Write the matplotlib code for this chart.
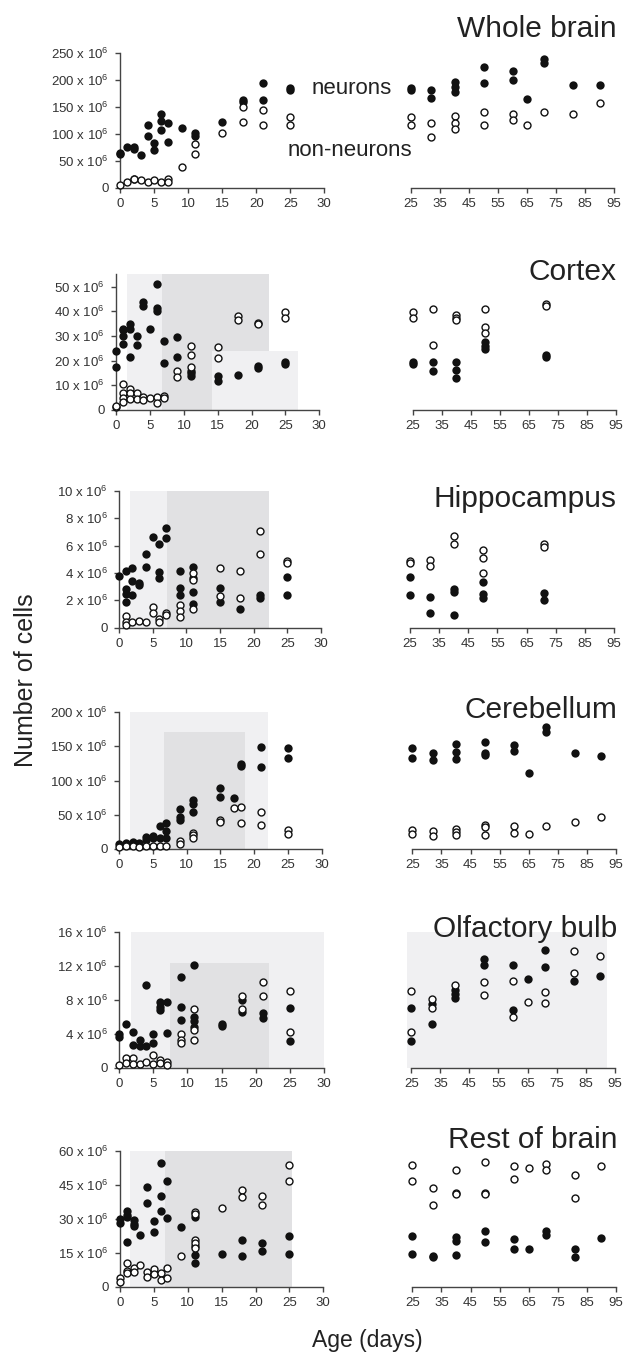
import matplotlib
matplotlib.use('Agg')
import matplotlib.pyplot as plt
from matplotlib.patches import Rectangle

plt.rcParams['font.family'] = ['Liberation Sans', 'DejaVu Sans']
plt.rcParams['mathtext.default'] = 'regular'

# ---------------- data (values in millions of cells) ----------------
# Whole brain
wb_neu_age = [0, 0, 1, 2, 2, 3, 4, 4, 5, 5, 6, 6, 6, 7, 7, 9, 11, 11, 15, 18, 18, 21, 21, 25, 25,
              32, 32, 40, 40, 40, 50, 50, 60, 60, 65, 71, 71, 81, 90]
wb_neu_val = [62, 65, 75, 75, 72, 60, 117, 96, 83, 70, 137, 123, 107, 119, 85, 111, 102, 96, 122, 162, 158, 193, 162, 184, 181,
              180, 166, 196, 187, 177, 223, 194, 216, 200, 164, 238, 231, 190, 190]
wb_non_age = [0, 1, 2, 2, 3, 4, 5, 6, 7, 7, 9, 11, 11, 15, 18, 18, 21, 21, 25, 25,
              32, 32, 40, 40, 40, 50, 50, 60, 60, 65, 71, 81, 90]
wb_non_val = [5, 10, 17, 16, 14, 11, 14, 11, 16, 10, 39, 80, 62, 101, 150, 122, 144, 117, 130, 117,
              119, 93, 132, 120, 109, 140, 117, 136, 125, 117, 141, 137, 156]

# Cortex
cx_neu_age = [0, 0, 1, 1, 1, 1, 2, 2, 2, 3, 3, 4, 4, 5, 6, 6, 6, 7, 7, 9, 9, 11, 11, 11, 15, 15, 18, 21, 21, 25, 25,
              32, 32, 40, 40, 40, 50, 50, 50, 71, 71]
cx_neu_val = [23.9, 17.6, 33, 32.4, 30, 26.6, 34.7, 32.7, 21.5, 30.1, 26.2, 43.9, 42.2, 33, 51.2, 41.5, 40.1, 27.8, 19.2,
              29.5, 21.5, 16, 14.9, 13.9, 13.9, 11.9, 14.1, 17.8, 17, 19.6, 18.8,
              19.3, 15.9, 19.3, 16.1, 13.1, 27.4, 26.1, 24.6, 22.3, 21.4]
cx_non_age = [0, 0, 1, 1, 1, 1, 2, 2, 2, 3, 3, 4, 4, 5, 6, 6, 7, 7, 9, 9, 11, 11, 11, 15, 15, 18, 18, 21, 21, 25, 25,
              32, 32, 40, 40, 40, 50, 50, 50, 71, 71]
cx_non_val = [1.4, 1.8, 10.7, 6.8, 4.7, 3.1, 8.6, 6.8, 4.3, 6.8, 4.3, 5.4, 4.1, 5, 5.4, 2.8, 5.7, 5, 15.8, 13.2,
              26.1, 22.2, 17.3, 25.5, 20.9, 38.1, 36.5, 35.4, 34.7, 39.7, 37.4,
              40.8, 26.4, 38.5, 37.4, 36.5, 40.8, 33.8, 31.1, 43, 42.3]

# Hippocampus
hp_neu_age = [0, 1, 1, 1, 1, 2, 2, 2, 3, 3, 4, 4, 5, 6, 6, 6, 7, 7, 9, 9, 9, 11, 11, 11, 11, 15, 15, 18, 21, 21, 25, 25,
              32, 32, 40, 40, 40, 50, 50, 50, 71, 71]
hp_neu_val = [3.77, 4.16, 2.8, 2.46, 1.85, 4.33, 3.4, 2.36, 3.28, 3.14, 5.38, 4.45, 6.62, 6.13, 4.04, 3.63, 7.25, 6.52,
              4.14, 2.92, 2.36, 4.45, 3.63, 2.63, 1.73, 2.92, 1.87, 1.34, 2.36, 2.14, 3.7, 2.4,
              2.24, 1.09, 2.85, 2.63, 0.9, 3.36, 2.46, 2.14, 2.55, 2.02]
hp_non_age = [1, 1, 1, 2, 3, 4, 5, 5, 6, 6, 7, 7, 9, 9, 9, 11, 11, 11, 15, 15, 18, 18, 21, 21, 25, 25,
              32, 32, 40, 40, 50, 50, 50, 71, 71]
hp_non_val = [0.88, 0.39, 0.22, 0.41, 0.46, 0.39, 1.48, 1.05, 0.66, 0.39, 1.05, 0.92, 1.68, 1.22, 0.75,
              4.0, 3.5, 1.34, 4.36, 2.29, 4.16, 2.19, 7.03, 5.38, 4.9, 4.75,
              4.94, 4.48, 6.67, 6.13, 5.64, 5.11, 3.97, 6.13, 5.86]

# Cerebellum
cb_neu_age = [0, 1, 2, 3, 4, 4, 5, 5, 6, 6, 7, 7, 7, 9, 9, 9, 11, 11, 11, 15, 15, 17, 18, 18, 21, 21, 25, 25,
              32, 32, 40, 40, 40, 50, 50, 50, 60, 60, 65, 71, 71, 81, 90]
cb_neu_val = [7.3, 8.8, 10.3, 8.8, 17.6, 12.7, 19, 15, 33.3, 15, 37.2, 25.4, 15, 57.7, 47, 42, 71.4, 65, 53.3,
              89, 76.3, 74.8, 124, 121.8, 149, 120.3, 147, 132.3,
              141, 130, 153.5, 142.3, 132, 157, 140, 137, 152, 143.8, 111.5, 178, 170.7, 140.8, 136.4]
cb_non_age = [0, 1, 2, 3, 4, 5, 6, 7, 9, 9, 11, 11, 11, 15, 15, 17, 18, 18, 21, 21, 25, 25,
              32, 32, 40, 40, 40, 50, 50, 50, 60, 60, 65, 71, 81, 90]
cb_non_val = [3, 4, 4, 3, 4, 4, 4, 4, 11.2, 6.8, 23.5, 20, 16.1, 41.6, 39.6, 60, 61.6, 37.2, 53.3, 35.2, 26.9, 22,
              26.4, 19, 28.4, 24, 20.5, 34.7, 31.8, 20, 32.8, 23.5, 22, 32.8, 38.6, 47]

# Olfactory bulb
ob_neu_age = [0, 0, 1, 2, 2, 3, 3, 4, 4, 5, 5, 6, 6, 6, 7, 7, 9, 9, 9, 11, 11, 11, 11, 15, 15, 18, 18, 21, 21, 25, 25,
              32, 32, 40, 40, 40, 50, 50, 60, 60, 65, 71, 71, 81, 90]
ob_neu_val = [3.96, 3.65, 5.1, 4.24, 2.7, 3.25, 2.6, 9.73, 2.6, 3.92, 2.86, 7.76, 7.18, 6.8, 7.76, 4.04,
              10.7, 7.2, 5.6, 12.08, 6.0, 5.5, 4.82, 5.1, 4.9, 7.96, 6.6, 6.47, 5.88, 7.0, 3.1,
              7.45, 5.1, 9.14, 8.67, 8.24, 12.75, 12.04, 12.04, 6.78, 10.4, 13.84, 11.88, 10.24, 10.75]
ob_non_age = [0, 1, 1, 2, 2, 3, 4, 5, 5, 6, 6, 7, 7, 9, 9, 9, 11, 11, 11, 18, 18, 21, 21, 25, 25,
              32, 32, 40, 50, 50, 60, 60, 65, 71, 71, 81, 81, 90]
ob_non_val = [0.27, 1.2, 0.5, 1.1, 0.43, 0.47, 0.7, 1.45, 0.47, 0.9, 0.5, 0.63, 0.3, 3.92, 3.25, 2.86,
              6.9, 4.43, 3.25, 8.43, 6.9, 10.08, 8.43, 9.0, 4.2,
              8.12, 7.06, 9.76, 10.12, 8.59, 10.24, 5.92, 7.76, 8.94, 7.57, 13.73, 11.1, 13.2]

# Rest of brain
rb_neu_age = [0, 0, 1, 1, 1, 1, 2, 2, 2, 3, 4, 4, 5, 5, 6, 6, 6, 7, 7, 9, 11, 11, 11, 11, 15, 18, 18, 21, 21, 25, 25,
              32, 32, 40, 40, 40, 50, 50, 60, 60, 65, 71, 71, 81, 81, 90]
rb_neu_val = [29.7, 27.9, 33.4, 31.6, 30.6, 19.6, 29.4, 27.6, 26.8, 22.9, 43.8, 37.1, 29.1, 24.1, 54.4, 40.1, 33.4,
              46.5, 30.3, 26.5, 30.9, 18.1, 14, 10.3, 14.6, 20.4, 13.4, 19.1, 15.9, 22.4, 14.4,
              13.5, 12.9, 21.8, 20, 14.1, 24.7, 19.6, 20.9, 16.6, 16.6, 24.7, 22.6, 16.6, 12.9, 21.6]
rb_non_age = [0, 0, 1, 1, 1, 2, 2, 3, 4, 4, 5, 5, 6, 6, 7, 7, 9, 11, 11, 11, 11, 11, 15, 18, 18, 21, 21, 25, 25,
              32, 32, 40, 40, 40, 50, 50, 50, 60, 60, 65, 71, 71, 81, 81, 90]
rb_non_val = [3.7, 2.1, 10.3, 7.1, 5.9, 8.1, 6.5, 9.6, 6.5, 4.1, 7.8, 5.6, 5.9, 2.9, 8.4, 4.0, 13.4,
              33.1, 31.9, 20.6, 19.1, 16.9, 34.6, 42.6, 39.7, 40.1, 36.0, 53.6, 46.8,
              43.5, 35.9, 51.5, 41.5, 40.9, 55.1, 41.5, 40.9, 53.2, 47.6, 52.5, 54, 51.3, 49.4, 39, 53.2]

titles = ['Whole brain', 'Cortex', 'Hippocampus', 'Cerebellum', 'Olfactory bulb', 'Rest of brain']
y_ticks = [[0, 50, 100, 150, 200, 250], [0, 10, 20, 30, 40, 50], [0, 2, 4, 6, 8, 10],
           [0, 50, 100, 150, 200], [0, 4, 8, 12, 16], [0, 15, 30, 45, 60]]
y_max = [250, 55, 10, 200, 16, 60]
left_xticks = [0, 5, 10, 15, 20, 25, 30]
right_xticks = [25, 35, 45, 55, 65, 75, 85, 95]

series = [(wb_neu_age, wb_neu_val, wb_non_age, wb_non_val),
          (cx_neu_age, cx_neu_val, cx_non_age, cx_non_val),
          (hp_neu_age, hp_neu_val, hp_non_age, hp_non_val),
          (cb_neu_age, cb_neu_val, cb_non_age, cb_non_val),
          (ob_neu_age, ob_neu_val, ob_non_age, ob_non_val),
          (rb_neu_age, rb_neu_val, rb_non_age, rb_non_val)]

# ---------------- layout (pixels) ----------------
W, H = 633, 1353
fig = plt.figure(figsize=(W / 100, H / 100), dpi=100)

LEFT_X = [(120.3, 324.3), (116.3, 319.3), (119, 321), (119, 321.7), (119, 324), (120, 323.3)]
RIGHT_X = [(411, 614), (412.7, 616), (410, 614), (412.3, 616), (411.3, 614.7), (412.3, 616)]
PANEL_Y = [(52.7, 187.7), (274.4, 410), (490.7, 627.7), (712.3, 848.7), (931.7, 1067.7), (1150.7, 1286.7)]
TITLE_BASE = [37, 280, 507, 718, 937, 1148]

LIGHT = '#f0f0f2'
DARK = '#e1e1e3'
# shading: (x0, x1, ytop, colour) in data units, drawn in order
SHADE_L = [[],
           [(6.75, 22.6, 55, DARK), (1.6, 6.75, 55, LIGHT), (14.2, 26.9, 24, LIGHT)],
           [(1.63, 7.08, 10, LIGHT), (7.08, 22.3, 10, DARK)],
           [(1.63, 22.0, 200, LIGHT), (6.6, 18.65, 171, DARK)],
           [(1.76, 30, 16, LIGHT), (7.5, 21.9, 12.3, DARK)],
           [(1.5, 6.6, 60, LIGHT), (6.6, 25.4, 60, DARK)]]
SHADE_R = [[], [], [], [], [(23.5, 92.3, 16, LIGHT)], []]

SPINE = '#444444'
TXT = '#333333'


def make_axes(x0, x1, y0, y1):
    return fig.add_axes([x0 / W, 1 - y1 / H, (x1 - x0) / W, (y1 - y0) / H])


def style(ax, show_y):
    for s in ['top', 'right']:
        ax.spines[s].set_visible(False)
    ax.spines['bottom'].set_color(SPINE)
    ax.spines['bottom'].set_linewidth(1.0)
    if show_y:
        ax.spines['left'].set_color(SPINE)
        ax.spines['left'].set_linewidth(1.0)
    else:
        ax.spines['left'].set_visible(False)
        ax.tick_params(axis='y', left=False, labelleft=False)
    ax.tick_params(axis='both', direction='out', length=3.8, width=1.0, color=SPINE,
                   labelcolor=TXT, labelsize=9.5)
    ax.tick_params(axis='x', pad=3.5)
    ax.tick_params(axis='y', pad=4.5)
    ax.set_facecolor('none')


def draw_points(ax, na, nv, oa, ov, keep):
    xa = [a for a, v in zip(na, nv) if keep(a)]
    xv = [v for a, v in zip(na, nv) if keep(a)]
    ax.plot(xa, xv, 'o', ms=6.0, mfc='#111111', mec='#111111', mew=0, ls='none', clip_on=False, zorder=4)
    ya = [a for a, v in zip(oa, ov) if keep(a)]
    yv = [v for a, v in zip(oa, ov) if keep(a)]
    ax.plot(ya, yv, 'o', ms=5.0, mfc='white', mec='#111111', mew=1.0, ls='none', clip_on=False, zorder=5)


for i in range(6):
    y0, y1 = PANEL_Y[i]
    na, nv, oa, ov = series[i]

    axL = make_axes(LEFT_X[i][0], LEFT_X[i][1], y0, y1)
    axL.set_xlim(0, 30)
    axL.set_ylim(0, y_max[i])
    for (a, b, t, c) in SHADE_L[i]:
        axL.add_patch(Rectangle((a, 0), b - a, t, facecolor=c, edgecolor='none', zorder=0, clip_on=False))
    draw_points(axL, na, nv, oa, ov, lambda a: a <= 25)
    axL.set_xticks(left_xticks)
    axL.set_yticks(y_ticks[i])
    axL.set_yticklabels(['0' if v == 0 else f'{v} x 10$^{{6}}$' for v in y_ticks[i]])
    style(axL, True)

    axR = make_axes(RIGHT_X[i][0], RIGHT_X[i][1], y0, y1)
    axR.set_xlim(25, 95)
    axR.set_ylim(0, y_max[i])
    for (a, b, t, c) in SHADE_R[i]:
        axR.add_patch(Rectangle((a, 0), b - a, t, facecolor=c, edgecolor='none', zorder=0, clip_on=False))
    draw_points(axR, na, nv, oa, ov, lambda a: a >= 25)
    axR.set_xticks(right_xticks)
    style(axR, False)

    fig.text(617 / W, 1 - TITLE_BASE[i] / H, titles[i], ha='right', va='baseline',
             fontsize=21.5, color='#222222', zorder=10)

fig.text(312 / W, 1 - 94 / H, 'neurons', ha='left', va='baseline', fontsize=16, color='#222222')
fig.text(288 / W, 1 - 156 / H, 'non-neurons', ha='left', va='baseline', fontsize=16, color='#222222')
fig.text(38 / W, 1 - 680 / H, 'Number of cells', rotation=90, ha='right', va='center',
         fontsize=18, color='#222222')
fig.text(367 / W, 1 - 1347 / H, 'Age (days)', ha='center', va='baseline', fontsize=16.5, color='#222222')

fig.savefig('out.png', dpi=100)
